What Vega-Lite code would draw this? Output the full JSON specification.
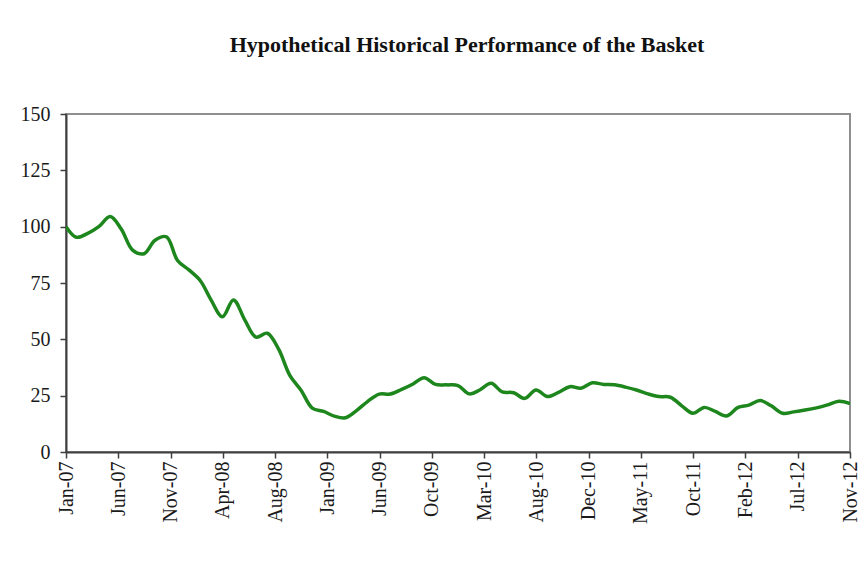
{
  "$schema": "https://vega.github.io/schema/vega-lite/v6.json",
  "autosize": {"type": "none"},
  "width": 784,
  "height": 338,
  "padding": {"left": 66, "top": 114, "right": 17, "bottom": 111},
  "background": "white",
  "title": {
    "text": "Hypothetical Historical Performance of the Basket",
    "font": "Liberation Serif",
    "fontSize": 22,
    "fontWeight": "bold",
    "color": "#111111",
    "anchor": "middle",
    "frame": "group",
    "baseline": "alphabetic",
    "offset": 30,
    "dx": 9
  },
  "config": {
    "view": {"stroke": "#8f8f8f", "strokeWidth": 2},
    "axis": {
      "labelFont": "Liberation Serif",
      "labelColor": "#1a1a1a",
      "domainColor": "#3f3f3f",
      "domainWidth": 2,
      "tickColor": "#3f3f3f",
      "tickWidth": 1.5,
      "tickSize": 6,
      "grid": false,
      "title": null
    }
  },
  "data": {
    "values": [
      {"date": "2007/01/31", "value": 100},
      {"date": "2007/02/28", "value": 95.3},
      {"date": "2007/03/31", "value": 97},
      {"date": "2007/04/30", "value": 100},
      {"date": "2007/05/31", "value": 104.5},
      {"date": "2007/06/30", "value": 99},
      {"date": "2007/07/31", "value": 89.6},
      {"date": "2007/08/31", "value": 88},
      {"date": "2007/09/30", "value": 94},
      {"date": "2007/10/31", "value": 95.5},
      {"date": "2007/11/30", "value": 85},
      {"date": "2007/12/31", "value": 80.8},
      {"date": "2008/01/31", "value": 76},
      {"date": "2008/02/29", "value": 67.5},
      {"date": "2008/03/31", "value": 60},
      {"date": "2008/04/30", "value": 67.5},
      {"date": "2008/05/31", "value": 58.5},
      {"date": "2008/06/30", "value": 51},
      {"date": "2008/07/31", "value": 52.7},
      {"date": "2008/08/31", "value": 45.5},
      {"date": "2008/09/30", "value": 34},
      {"date": "2008/10/31", "value": 27.3},
      {"date": "2008/11/30", "value": 19.5},
      {"date": "2008/12/31", "value": 18},
      {"date": "2009/01/31", "value": 15.8},
      {"date": "2009/02/28", "value": 15.2},
      {"date": "2009/03/31", "value": 18.5},
      {"date": "2009/04/30", "value": 22.5},
      {"date": "2009/05/31", "value": 25.7},
      {"date": "2009/06/30", "value": 25.7},
      {"date": "2009/07/31", "value": 27.8},
      {"date": "2009/08/31", "value": 30.2},
      {"date": "2009/09/30", "value": 33},
      {"date": "2009/10/31", "value": 30},
      {"date": "2009/11/30", "value": 29.8},
      {"date": "2009/12/31", "value": 29.5},
      {"date": "2010/01/31", "value": 25.8},
      {"date": "2010/02/28", "value": 27.5},
      {"date": "2010/03/31", "value": 30.5},
      {"date": "2010/04/30", "value": 26.7},
      {"date": "2010/05/31", "value": 26.3},
      {"date": "2010/06/30", "value": 23.8},
      {"date": "2010/07/31", "value": 27.5},
      {"date": "2010/08/31", "value": 24.6},
      {"date": "2010/09/30", "value": 26.5},
      {"date": "2010/10/31", "value": 29},
      {"date": "2010/11/30", "value": 28.3},
      {"date": "2010/12/31", "value": 30.7},
      {"date": "2011/01/31", "value": 30},
      {"date": "2011/02/28", "value": 29.8},
      {"date": "2011/03/31", "value": 28.8},
      {"date": "2011/04/30", "value": 27.5},
      {"date": "2011/05/31", "value": 25.8},
      {"date": "2011/06/30", "value": 24.6},
      {"date": "2011/07/31", "value": 24.3},
      {"date": "2011/08/31", "value": 20.5},
      {"date": "2011/09/30", "value": 17.2},
      {"date": "2011/10/31", "value": 19.8},
      {"date": "2011/11/30", "value": 18},
      {"date": "2011/12/31", "value": 16},
      {"date": "2012/01/31", "value": 19.8},
      {"date": "2012/02/29", "value": 20.8},
      {"date": "2012/03/31", "value": 22.8},
      {"date": "2012/04/30", "value": 20.5},
      {"date": "2012/05/31", "value": 17.2},
      {"date": "2012/06/30", "value": 17.8},
      {"date": "2012/07/31", "value": 18.6},
      {"date": "2012/08/31", "value": 19.6},
      {"date": "2012/09/30", "value": 20.9},
      {"date": "2012/10/31", "value": 22.5},
      {"date": "2012/11/30", "value": 21.5}
    ]
  },
  "mark": {
    "type": "line",
    "interpolate": "catmull-rom",
    "color": "#1d861d",
    "strokeWidth": 3.5,
    "clip": true
  },
  "encoding": {
    "x": {
      "field": "date",
      "type": "temporal",
      "scale": {
        "domain": [
          {"year": 2007, "month": 1, "date": 31},
          {"year": 2012, "month": 11, "date": 30}
        ]
      },
      "axis": {
        "values": [
          {"year": 2007, "month": 1, "date": 31},
          {"year": 2007, "month": 6, "date": 22},
          {"year": 2007, "month": 11, "date": 11},
          {"year": 2008, "month": 4, "date": 1},
          {"year": 2008, "month": 8, "date": 21},
          {"year": 2009, "month": 1, "date": 10},
          {"year": 2009, "month": 6, "date": 1},
          {"year": 2009, "month": 10, "date": 21},
          {"year": 2010, "month": 3, "date": 12},
          {"year": 2010, "month": 8, "date": 1},
          {"year": 2010, "month": 12, "date": 21},
          {"year": 2011, "month": 5, "date": 12},
          {"year": 2011, "month": 10, "date": 1},
          {"year": 2012, "month": 2, "date": 20},
          {"year": 2012, "month": 7, "date": 11},
          {"year": 2012, "month": 11, "date": 30}
        ],
        "format": "%b-%y",
        "labelAngle": -90,
        "labelAlign": "right",
        "labelBaseline": "middle",
        "labelFontSize": 20,
        "labelPadding": 3,
        "labelOverlap": false,
        "labelFlush": false,
        "labelBound": false
      }
    },
    "y": {
      "field": "value",
      "type": "quantitative",
      "scale": {"domain": [0, 150], "nice": false},
      "axis": {
        "values": [0, 25, 50, 75, 100, 125, 150],
        "labelFontSize": 20,
        "labelPadding": 10,
        "labelFlush": false,
        "labelBound": false
      }
    }
  }
}
